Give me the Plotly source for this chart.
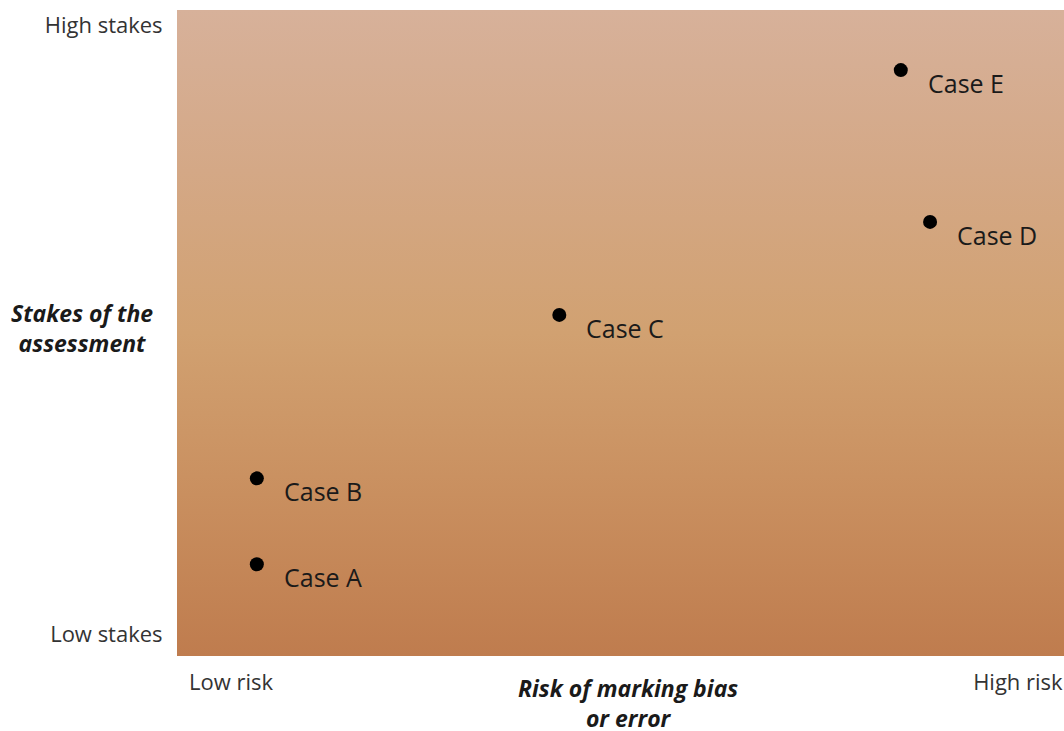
import plotly.graph_objects as go

cases = ["Case A", "Case B", "Case C", "Case D", "Case E"]
risk = [0.90, 0.90, 4.31, 8.49, 8.16]
stakes = [1.42, 2.75, 5.28, 6.72, 9.07]

x_tick_vals = [0.61, 9.48]
x_tick_text = ["Low risk", "High risk"]
y_tick_vals = [0.33, 9.77]
y_tick_text = ["Low stakes", "High stakes"]

x_title = "Risk of marking bias<br>or error"
y_title = "Stakes of the<br>assessment"

FONT = "Open Sans, sans-serif"

fig = go.Figure()

# background gradient
fig.add_trace(go.Scatter(
    x=[0, 10, 10, 0, 0], y=[0, 0, 10, 10, 0],
    mode="lines", line=dict(width=0), fill="toself",
    fillgradient=dict(type="vertical",
                      colorscale=[[0, "#bf7c4e"], [0.25, "#c98f5f"],
                                  [0.5, "#d1a171"], [0.75, "#d4a886"],
                                  [1, "#d7b19a"]]),
    hoverinfo="skip", showlegend=False))

fig.add_trace(go.Scatter(
    x=risk, y=stakes, mode="markers",
    marker=dict(color="black", size=14),
    showlegend=False))

for name, xv, yv in zip(cases, risk, stakes):
    fig.add_annotation(x=xv, y=yv, text=name, showarrow=False,
                       xanchor="left", yanchor="middle",
                       xshift=25, yshift=-13,
                       font=dict(family=FONT, size=25, color="#1a1a1a"))

fig.add_annotation(x=-0.107, y=0.508, xref="paper", yref="paper",
                   text="<b><i>" + y_title + "</i></b>", showarrow=False,
                   xanchor="center", yanchor="middle",
                   font=dict(family=FONT, size=23, color="#1a1a1a"))
fig.add_annotation(x=0.508, y=-0.022, xref="paper", yref="paper",
                   text="<b><i>" + x_title + "</i></b>", showarrow=False,
                   xanchor="center", yanchor="top",
                   font=dict(family=FONT, size=23, color="#1a1a1a"))

fig.update_xaxes(range=[0, 10], showgrid=False, zeroline=False,
                 showline=False, tickvals=x_tick_vals, ticktext=x_tick_text,
                 ticks="outside", ticklen=7, tickcolor="rgba(0,0,0,0)",
                 tickfont=dict(family=FONT, size=22, color="#333"))
fig.update_yaxes(range=[0, 10], showgrid=False, zeroline=False,
                 showline=False, tickvals=y_tick_vals, ticktext=y_tick_text,
                 ticks="outside", ticklen=9, tickcolor="rgba(0,0,0,0)",
                 tickfont=dict(family=FONT, size=22, color="#333"))

fig.update_layout(width=1064, height=731,
                  margin=dict(l=177, r=0, t=10, b=75),
                  paper_bgcolor="white", plot_bgcolor="white")

fig.write_html("out.html", config={"displayModeBar": False},
               post_script="document.body.style.margin='0px';document.body.style.overflow='hidden';")
